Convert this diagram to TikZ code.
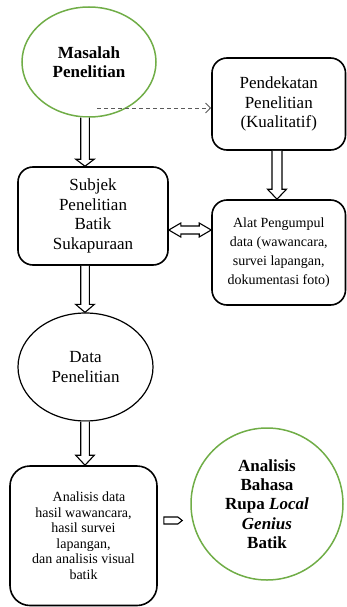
\documentclass[tikz,border=0pt]{standalone}
\usepackage{fontspec}
\setmainfont{Liberation Serif}
\usetikzlibrary{shapes.geometric,arrows.meta,calc}
\definecolor{gr}{RGB}{112,173,71}
\definecolor{dashc}{RGB}{90,90,90}
\tikzset{
  boxn/.style={draw, line width=1.6pt, rounded corners=15pt, align=center, inner sep=0pt},
  greenell/.style={draw=gr, line width=1.5pt, ellipse, align=center, inner sep=0pt},
  blackell/.style={draw, line width=1.2pt, ellipse, align=center, inner sep=0pt},
  blk/.style={draw, line width=1.1pt, fill=white, line join=miter},
  dasharr/.style={draw=dashc, line width=0.9pt, dash pattern=on 4pt off 3pt, -{Straight Barb[length=5pt,width=10pt,line width=0.9pt]}},
  big/.style={font=\fontsize{17}{19.5}\selectfont},
  mid/.style={font=\fontsize{14}{19}\selectfont},
  small/.style={font=\fontsize{14}{15.5}\selectfont},
}
% vertical block arrow: #1 start, #2 end, #3 x (pt), #4 shaft half width, #5 head half width, #6 head length
\newcommand\vblockarrow[6]{%
  \draw[blk] let \p1=(#1), \p2=(#2) in
    ({#3pt-#4pt},\y1) -- ({#3pt-#4pt},{\y2+#6pt}) -- ({#3pt-#5pt},{\y2+#6pt}) -- ({#3pt},\y2)
    -- ({#3pt+#5pt},{\y2+#6pt}) -- ({#3pt+#4pt},{\y2+#6pt}) -- ({#3pt+#4pt},\y1);}
\begin{document}
\begin{tikzpicture}[x=1pt,y=-1pt]
\useasboundingbox (0,0) rectangle (347,607);

\node[greenell, big, minimum width=134pt, minimum height=110pt] (m) at (89,62)
  {\bfseries Masalah\\\bfseries Penelitian};
\node[boxn, big, minimum width=133.5pt, minimum height=92pt] (p) at (278.75,104)
  {Pendekatan\\Penelitian\\(Kualitatif)};
\node[boxn, big, minimum width=150pt, minimum height=98pt] (s) at (93,216)
  {Subjek\\Penelitian\\Batik\\Sukapuraan};
\node[boxn, mid, minimum width=133.5pt, minimum height=105pt] (a) at (278.75,252.5)
  {Alat Pengumpul\\data (wawancara,\\survei lapangan,\\dokumentasi foto)};
\node[blackell, big, minimum width=135pt, minimum height=108pt] (d) at (85.5,367)
  {Data\\Penelitian};
\node[boxn, small, rounded corners=20pt, minimum width=147pt, minimum height=139.5pt] (b) at (83.5,535.75)
  {\hspace*{11pt}Analisis data\\hasil wawancara,\\hasil survei\\lapangan,\\dan analisis visual\\batik};
\node[draw=gr, line width=1.5pt, circle, minimum size=152pt, inner sep=0pt, align=center,
  font=\fontsize{17}{19.3}\selectfont\bfseries] (c) at (267,504)
  {Analisis\\Bahasa\\Rupa \textit{Local}\\\textit{Genius}\\Batik};

% dashed connector
\coordinate (ds) at (97,108);
\draw[dasharr] (ds) -- (ds -| p.west);

% vertical block arrows
\vblockarrow{m.south}{s.north}{85}{4.3}{9.3}{7}
\vblockarrow{p.south}{a.north}{277}{5}{9.5}{10}
\vblockarrow{s.south}{d.north}{85}{4.3}{9.3}{8}
\vblockarrow{d.south}{b.north}{85}{4.3}{9.3}{10}

% double-headed horizontal arrow
\draw[blk] let \p1=(s.east), \p2=(a.west) in
  (\x1,-230pt) -- ({\x1+12pt},-223pt) -- ({\x1+12pt},-226pt) -- ({\x2-12pt},-226pt)
  -- ({\x2-12pt},-223pt) -- (\x2,-230pt) -- ({\x2-12pt},-237pt) -- ({\x2-12pt},-234pt)
  -- ({\x1+12pt},-234pt) -- ({\x1+12pt},-237pt) -- cycle;

% small block arrow
\draw[blk] let \p1=(b.east), \p2=(c.west) in
  ({\x1+6pt},-517pt) -- ({\x1+20pt},-517pt) -- ({\x2-8pt},-520.5pt) -- ({\x1+20pt},-524pt)
  -- ({\x1+6pt},-524pt) -- cycle;
\end{tikzpicture}
\end{document}
